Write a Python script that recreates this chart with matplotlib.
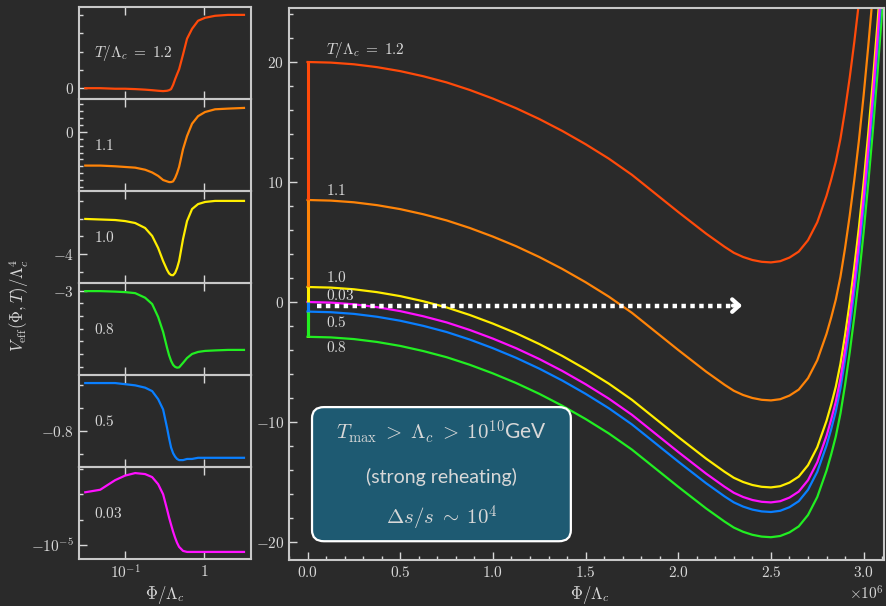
import numpy as np
import matplotlib
matplotlib.use("Agg")
import matplotlib.pyplot as plt
from matplotlib.ticker import MultipleLocator, ScalarFormatter, FixedLocator, FixedFormatter, NullLocator
from matplotlib.patches import FancyBboxPatch

plt.rcParams['font.family'] = 'cmr10'
plt.rcParams['mathtext.fontset'] = 'cm'
plt.rcParams['axes.formatter.use_mathtext'] = True

BG = '#2a2a2a'
FG = '#d8d8d8'
SPINE = '#c8c8c8'

# temperatures and colours
temps = ['1.2', '1.1', '1.0', '0.8', '0.5', '0.03']
colors = ['#ff4a0a', '#ff8408', '#ffee00', '#22ee22', '#0a7fff', '#ff10ff']

# main panel: common shape of the potential, offsets at Phi = 0
phi_main = [0, 0.125e6, 0.25e6, 0.375e6, 0.5e6, 0.625e6, 0.75e6, 0.875e6, 1.0e6, 1.125e6,
            1.25e6, 1.375e6, 1.5e6, 1.625e6, 1.75e6, 1.875e6, 2.0e6, 2.05e6, 2.1e6, 2.15e6,
            2.2e6, 2.25e6, 2.3e6, 2.35e6, 2.4e6, 2.45e6, 2.5e6, 2.55e6, 2.6e6, 2.65e6,
            2.7e6, 2.75e6, 2.8e6, 2.825e6, 2.85e6, 2.875e6, 2.9e6, 2.925e6, 2.95e6, 2.975e6,
            3.0e6, 3.025e6, 3.05e6, 3.075e6, 3.1e6, 3.125e6, 3.15e6]
shape_main = [0, -0.05, -0.19, -0.43, -0.76, -1.19, -1.70, -2.33, -3.05, -3.85,
              -4.75, -5.75, -6.85, -8.05, -9.4, -10.95, -12.5, -13.1, -13.7, -14.3,
              -14.85, -15.4, -15.9, -16.25, -16.5, -16.65, -16.7, -16.6, -16.3, -15.8,
              -14.85, -13.35, -11.15, -9.8, -8.3, -6.4, -4.0, -1.3, 1.7, 5.0,
              8.7, 12.8, 17.2, 22.0, 27.2, 32.8, 38.8]
v0 = [20.0, 8.5, 1.25, -2.9, -0.8, 0.0]

# small panels: Phi grid (log axis) and curves in each panel's own units
phi_small = [0.0312, 0.0483, 0.0747, 0.1, 0.134, 0.179, 0.220, 0.262, 0.303, 0.340, 0.3605,
             0.382, 0.4055, 0.430, 0.4553, 0.483, 0.542, 0.609, 0.705, 0.840, 1.03, 1.38,
             2.01, 3.21]
v_12 = [0, 0, -0.03, -0.03, -0.05, -0.08, -0.11, -0.14, -0.16, -0.14, -0.11,
        -0.05, 0.18, 0.49, 0.76, 1.03, 1.84, 2.70, 3.24, 3.68, 3.84, 3.95,
        4.0, 4.0]
v_11 = [-0.49, -0.49, -0.50, -0.51, -0.52, -0.55, -0.59, -0.64, -0.70, -0.72, -0.73,
        -0.73, -0.72, -0.67, -0.60, -0.51, -0.25, -0.06, 0.12, 0.23, 0.29, 0.33,
        0.34, 0.35]
v_10 = [-2.02, -2.05, -2.08, -2.14, -2.25, -2.53, -2.98, -3.66, -4.40, -4.90, -5.10,
        -5.19, -5.20, -5.07, -4.80, -4.40, -3.15, -2.14, -1.46, -1.18, -1.06, -1.0,
        -1.0, -1.0]
v_08 = [-3.02, -3.02, -3.04, -3.06, -3.10, -3.28, -3.53, -4.04, -4.63, -5.26, -5.55,
        -5.77, -5.93, -6.01, -6.04, -6.03, -5.85, -5.66, -5.50, -5.42, -5.38, -5.36,
        -5.34, -5.34]
v_05 = [-0.38, -0.38, -0.38, -0.39, -0.40, -0.42, -0.45, -0.52, -0.61, -0.77, -0.86,
        -0.94, -0.99, -1.02, -1.04, -1.05, -1.05, -1.04, -1.04, -1.03, -1.03, -1.03,
        -1.03, -1.03]
v_003 = [-0.48, -0.455, -0.36, -0.315, -0.29, -0.30, -0.33, -0.40, -0.50, -0.65, -0.73,
         -0.80, -0.87, -0.93, -0.98, -1.02, -1.06, -1.07, -1.07, -1.07, -1.07, -1.07,
         -1.07, -1.07]
small_curves = [v_12, v_11, v_10, v_08, v_05, v_003]
small_major = [0, 0, -4, -3, -0.8, -1]
small_major_lbl = ['$0$', '$0$', '$-4$', '$-3$', '$-0.8$', '$-10^{-5}$']
small_minor = [1, 0.1, 1, 0.5, 0.2, 0.25]
small_ylim = [(-0.59, 4.43), (-0.86, 0.48), (-5.64, -0.44), (-6.33, -2.70), (-1.11, -0.31), (-1.14, -0.23)]
small_text = ['$T/\\Lambda_c\\;=\\;1.2$', '$1.1$', '$1.0$', '$0.8$', '$0.5$', '$0.03$']

fig = plt.figure(figsize=(8.86, 6.06), dpi=100)
fig.patch.set_facecolor(BG)

W, H = 886, 606

def style(ax):
    ax.set_facecolor('none')
    for s in ax.spines.values():
        s.set_color(SPINE)
        s.set_linewidth(1.5)
    ax.tick_params(which='both', direction='in', colors=FG, labelsize=11)
    ax.tick_params(which='major', length=6, width=1)
    ax.tick_params(which='minor', length=3, width=1)

# left column of small panels
ph = 92
for i in range(6):
    top = 7 + ph * i
    ax = fig.add_axes([79 / W, 1 - (top + ph) / H, 172 / W, ph / H])
    style(ax)
    ax.semilogx(phi_small, small_curves[i], color=colors[i], lw=1.6)
    ax.set_xlim(0.026, 3.94)
    ax.set_ylim(*small_ylim[i])
    ax.xaxis.set_major_locator(FixedLocator([0.1, 1]))
    ax.xaxis.set_minor_locator(NullLocator())
    ax.tick_params(axis='x', top=True, bottom=True)
    if i == 5:
        ax.xaxis.set_major_formatter(FixedFormatter(['$10^{-1}$', '$1$']))
    else:
        ax.tick_params(axis='x', labelbottom=False)
    ax.yaxis.set_major_locator(FixedLocator([small_major[i]]))
    ax.yaxis.set_major_formatter(FixedFormatter([small_major_lbl[i]]))
    ax.yaxis.set_minor_locator(MultipleLocator(small_minor[i]))
    ax.text(0.087, 0.5, small_text[i], transform=ax.transAxes, color=FG,
            fontsize=11, va='center', ha='left')

fig.text(165 / W, 1 - 595 / H, '$\\Phi/\\Lambda_c$', color=FG, fontsize=12, ha='center', va='center')
fig.text(19 / W, 1 - 305 / H, '$V_{\\rm eff}(\\Phi,T)/\\Lambda_c^4$', color=FG, fontsize=12,
         rotation=90, ha='center', va='center')

# main panel
ax = fig.add_axes([289 / W, 1 - 560 / H, 595 / W, 552 / H])
style(ax)
for i in range(6):
    ax.plot(phi_main, np.array(shape_main) + v0[i], color=colors[i], lw=1.6)
# vertical steps at Phi = 0, following the cooling sequence
for i in range(5):
    ax.plot([0, 0], [v0[i], v0[i + 1]], color=colors[i], lw=2.2, solid_capstyle='butt')

ax.set_xlim(-0.1e6, 3.11e6)
ax.set_ylim(-21.5, 24.5)
ax.xaxis.set_major_locator(MultipleLocator(0.5e6))
ax.xaxis.set_minor_locator(MultipleLocator(0.1e6))
ax.yaxis.set_major_locator(MultipleLocator(10))
ax.yaxis.set_minor_locator(MultipleLocator(2))
fmt = ScalarFormatter(useMathText=True)
fmt.set_powerlimits((0, 0))
ax.xaxis.set_major_formatter(fmt)
ax.xaxis.get_offset_text().set_color(FG)
ax.xaxis.get_offset_text().set_fontsize(11)

# temperature labels
lab_y = [21.0, 9.3, 2.0, -3.75, -1.7, 0.5]
main_text = ['$T/\\Lambda_c\\;=\\;1.2$', '$1.1$', '$1.0$', '$0.8$', '$0.5$', '$0.03$']
for i in range(6):
    ax.text(0.1e6, lab_y[i], main_text[i], color=FG, fontsize=11, va='center', ha='left')

# dotted arrow
ax.plot([0.05e6, 2.3e6], [-0.3, -0.3], color='white', lw=3.2, linestyle=(0, (1, 1)),
        dash_capstyle='butt')
ax.annotate('', xy=(2.36e6, -0.3), xytext=(2.28e6, -0.3),
            arrowprops=dict(arrowstyle='->, head_length=0.5, head_width=0.45', lw=3, color='white'))

# info box
box = FancyBboxPatch((0.0387, 0.034), 0.435, 0.243, boxstyle='round,pad=0,rounding_size=0.02',
                     transform=ax.transAxes, facecolor='#1e5a72', edgecolor='white', lw=1.6, zorder=5)
ax.add_patch(box)
ax.text(0.2565, 0.232, '$T_{\\rm max}\\;>\\;\\Lambda_c\\;>\\;10^{10}$GeV', transform=ax.transAxes,
        color=FG, fontsize=15, ha='center', va='center', family='Lato', zorder=6)
ax.text(0.2565, 0.150, '(strong reheating)', transform=ax.transAxes,
        color=FG, fontsize=14, ha='center', va='center', family='Lato', zorder=6)
ax.text(0.2565, 0.076, '$\\Delta s/s\\;\\sim\\;10^4$', transform=ax.transAxes,
        color=FG, fontsize=15, ha='center', va='center', zorder=6)

fig.text(590 / W, 1 - 595 / H, '$\\Phi/\\Lambda_c$', color=FG, fontsize=12, ha='center', va='center')

fig.savefig('out.png', dpi=100, facecolor=BG)
